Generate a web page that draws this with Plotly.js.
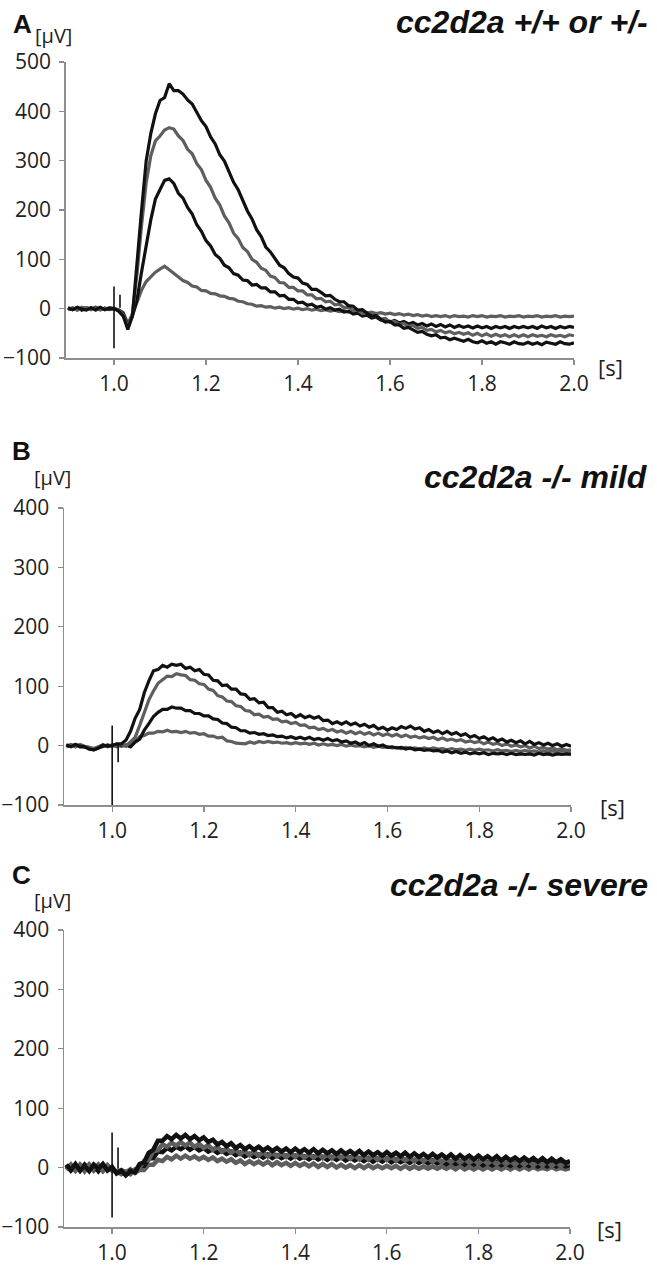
<!DOCTYPE html>
<html>
<head>
<meta charset="utf-8">
<script src="https://cdn.plot.ly/plotly-3.0.1.min.js"></script>
<style>html,body{margin:0;padding:0;background:#fff;}#chart{width:657px;height:1266px;}</style>
</head>
<body>
<div id="chart"></div>
<script>
// time base (s), shared by all traces
const timeS = [
0.90,0.91,0.92,0.93,0.94,0.95,0.96,0.97,0.98,0.99,
1.00,1.01,1.02,1.03,1.04,1.05,1.06,1.07,1.08,1.09,
1.10,1.11,1.12,1.13,1.14,1.15,1.16,1.17,1.18,1.19,
1.20,1.21,1.22,1.23,1.24,1.25,1.26,1.27,1.28,1.29,
1.30,1.31,1.32,1.33,1.34,1.35,1.36,1.37,1.38,1.39,
1.40,1.41,1.42,1.43,1.44,1.45,1.46,1.47,1.48,1.49,
1.50,1.51,1.52,1.53,1.54,1.55,1.56,1.57,1.58,1.59,
1.60,1.61,1.62,1.63,1.64,1.65,1.66,1.67,1.68,1.69,
1.70,1.71,1.72,1.73,1.74,1.75,1.76,1.77,1.78,1.79,
1.80,1.81,1.82,1.83,1.84,1.85,1.86,1.87,1.88,1.89,
1.90,1.91,1.92,1.93,1.94,1.95,1.96,1.97,1.98,1.99,
2.00];

// Panel A: cc2d2a +/+ or +/-  (µV)
const A1 = [2,-2,3,-1,-3,2,-2,3,-2,1,
0,-5,-15,-42,-15,100,200,300,355,395,
422,428,456,442,442,435,423,415,397,381,
369,348,334,312,299,278,256,241,219,198,
182,160,146,125,115,100,88,83,71,64,
62,52,49,39,39,33,26,27,19,14,
14,6,5,-3,-2,-9,-15,-14,-22,-27,
-26,-33,-33,-40,-38,-43,-48,-46,-52,-55,
-53,-59,-58,-63,-60,-63,-66,-62,-67,-69,
-65,-70,-67,-72,-67,-69,-72,-67,-71,-72,
-68,-72,-69,-73,-68,-70,-72,-67,-71,-72,
-69];
const A2 = [-1,2,-3,1,2,-2,3,-2,1,-1,
0,-3,-12,-38,-10,70,170,255,310,340,
350,362,367,364,350,341,323,314,294,282,
260,246,224,210,188,174,153,142,124,116,
100,94,82,78,66,63,53,52,43,43,
36,36,28,28,20,21,14,15,8,9,
2,3,-4,-3,-10,-8,-15,-14,-21,-20,
-27,-26,-32,-30,-36,-34,-40,-38,-44,-42,
-47,-44,-49,-46,-51,-48,-52,-49,-54,-50,
-55,-51,-56,-52,-56,-53,-57,-53,-57,-53,
-57,-53,-56,-54,-57,-53,-56,-54,-57,-53,
-55];
const A3 = [1,-2,2,-3,2,-1,3,-2,1,-2,
0,-3,-10,-35,-15,18,75,130,180,222,
243,260,263,254,234,224,205,192,170,157,
138,127,110,102,88,83,71,68,58,57,
48,49,42,42,34,34,26,27,19,19,
12,13,7,9,3,5,-1,2,-3,-1,
-7,-5,-11,-9,-15,-13,-19,-17,-23,-21,
-27,-24,-29,-26,-31,-28,-33,-30,-35,-31,
-36,-32,-37,-33,-38,-34,-38,-35,-39,-35,
-39,-36,-40,-36,-39,-36,-40,-36,-39,-36,
-39,-36,-40,-35,-39,-36,-40,-36,-39,-36,
-38];
const A4 = [-2,1,-2,3,-1,2,-3,1,-1,2,
0,-2,-8,-30,-12,15,38,55,65,74,
80,86,79,71,65,57,53,46,44,37,
36,31,30,26,25,21,20,15,14,10,
9,5,6,3,4,1,3,0,2,-1,
1,-2,0,-3,-1,-4,-2,-5,-3,-6,
-4,-7,-5,-8,-6,-9,-7,-10,-8,-11,
-9,-12,-10,-13,-11,-14,-12,-15,-13,-16,
-14,-16,-14,-17,-14,-16,-15,-17,-14,-16,
-14,-17,-15,-16,-14,-17,-15,-16,-14,-17,
-15,-16,-14,-17,-15,-16,-14,-17,-15,-16,
-15];

// Panel B: cc2d2a -/- mild
const B1 = [1,-2,2,-1,-2,-6,-7,-4,1,-1,
0,3,3,9,24,46,61,89,109,126,
128,135,132,137,135,137,130,132,126,128,
120,119,110,109,101,102,95,95,87,86,
78,79,72,73,64,64,56,58,52,54,
48,52,47,50,46,49,42,43,37,40,
36,40,35,38,33,36,31,34,28,31,
26,30,27,32,29,33,28,30,24,27,
22,25,20,24,19,22,17,20,14,17,
12,15,10,13,8,11,6,9,5,8,
3,7,2,5,1,4,0,3,-1,2,
-1];
const B2 = [-2,1,-2,2,-1,-3,-5,-2,1,-2,
1,-1,2,-1,6,14,34,54,77,92,
105,111,117,116,121,119,118,111,110,104,
103,95,93,84,82,75,74,67,66,59,
58,52,53,48,49,44,45,40,41,37,
39,34,35,30,31,27,29,25,27,23,
25,21,24,20,23,19,22,18,21,17,
20,16,19,15,18,14,16,13,15,12,
14,10,13,9,11,8,10,6,8,5,
7,3,6,2,4,0,3,-1,1,-2,
0,-4,-1,-5,-3,-6,-4,-7,-5,-8,
-7];
const B3 = [1,-1,2,-2,-2,-5,-7,-4,-1,1,
-1,2,-1,1,-2,6,11,26,37,49,
56,61,61,65,63,63,59,59,54,54,
50,50,45,44,38,37,31,30,25,25,
21,22,19,20,17,18,15,16,13,15,
12,14,11,14,10,12,9,12,8,10,
6,8,4,6,2,5,0,3,-1,1,
-3,-2,-4,-3,-6,-4,-7,-6,-8,-7,
-9,-8,-11,-9,-12,-10,-13,-11,-14,-12,
-14,-12,-15,-13,-14,-13,-15,-13,-15,-14,
-15,-14,-16,-13,-15,-14,-16,-14,-15,-14,
-15];
const B4 = [-1,2,-2,1,-2,-3,-6,-2,1,-1,
1,-2,1,-1,4,7,15,17,21,21,
24,23,26,23,24,22,24,21,22,19,
20,16,16,13,14,8,7,4,4,3,
6,4,7,5,7,5,6,4,5,3,
5,3,4,2,4,1,3,1,2,0,
2,-1,1,-1,0,-2,0,-3,-1,-3,
-2,-4,-3,-5,-3,-5,-4,-6,-4,-6,
-4,-6,-5,-7,-5,-7,-6,-8,-6,-8,
-6,-8,-7,-9,-7,-9,-8,-10,-8,-10,
-8,-10,-9,-11,-9,-11,-9,-11,-9,-10,
-10];

// Panel C: cc2d2a -/- severe
const C1 = [5,-4,6,-5,3,-6,5,-2,6,-5,
1,-10,-5,-13,-6,-8,6,9,25,30,
45,45,53,48,55,49,55,48,53,46,
51,43,47,39,43,36,41,33,38,31,
36,30,35,29,34,28,33,27,32,26,
32,26,31,25,31,24,30,24,29,23,
29,23,28,22,28,21,27,21,26,20,
26,20,25,19,25,18,24,18,23,17,
23,17,22,16,22,15,21,15,20,14,
20,14,19,13,19,12,18,12,17,11,
17,11,16,10,16,9,15,9,14,8,
11];
const C2 = [-4,5,-5,4,-6,5,-2,5,-5,3,
-5,-6,-11,-7,-11,-3,0,11,13,28,
29,39,35,42,37,43,37,42,35,40,
33,38,30,35,27,32,25,30,23,28,
21,27,20,26,19,25,19,24,18,24,
18,24,17,23,17,23,16,22,16,22,
16,21,15,21,14,20,14,20,13,19,
13,19,12,18,12,17,11,17,11,16,
10,16,9,15,9,15,8,14,8,13,
7,13,7,12,6,12,6,11,5,11,
5,11,4,10,4,10,3,9,3,9,
6];
const C3 = [4,-5,2,-5,5,-3,3,-6,5,-2,
0,-9,-5,-11,-5,-6,3,3,15,16,
27,26,33,29,35,31,36,30,35,29,
33,27,31,25,29,23,27,21,25,19,
23,18,22,17,22,16,21,16,20,15,
20,15,19,14,19,14,18,13,18,13,
18,12,17,12,16,11,16,10,15,10,
15,9,14,9,13,8,13,8,12,7,
12,7,11,6,11,6,10,5,10,5,
10,4,9,4,9,4,8,3,8,3,
8,3,8,2,7,2,7,2,7,2,
4];
const C4 = [-3,4,-5,5,-2,5,-5,2,-6,4,
-4,-8,-4,-8,-3,-9,-4,-4,5,5,
13,11,18,14,20,15,20,15,19,14,
18,13,17,11,15,10,14,8,12,6,
11,6,10,5,10,4,9,4,8,3,
8,3,7,2,7,1,6,1,6,0,
5,0,4,-1,4,-1,4,-1,3,-1,
3,-1,3,-2,3,-2,2,-2,2,-2,
2,-2,2,-2,2,-3,2,-3,1,-3,
1,-3,1,-3,1,-3,1,-3,1,-3,
1,-3,1,-3,0,-3,1,-3,0,-3,
-1];

// stimulus artifacts (time, µV)
const artT = [1.0, 1.0, null, 1.013, 1.013];
const artA = [-80, 45, null, 2, 28];
const artB = [-100, 34, null, 3, -28];
const artC = [-84, 59, null, -2, 34];

// ticks and labels
const xTicks = [1.0, 1.2, 1.4, 1.6, 1.8, 2.0];
const xTickText = ["1.0", "1.2", "1.4", "1.6", "1.8", "2.0"];
const yTicksA = [-100, 0, 100, 200, 300, 400, 500];
const yTicksBC = [-100, 0, 100, 200, 300, 400];
const panelTitles = ["cc2d2a +/+ or +/-", "cc2d2a -/- mild", "cc2d2a -/- severe"];
const panelLetters = ["A", "B", "C"];

const BLACK = '#111111', GRAY = '#5e5e5e';
const W = 657, H = 1266;

function tr(y, color, xa, ya, w) {
  return {x: timeS, y: y, type: 'scatter', mode: 'lines', xaxis: xa, yaxis: ya,
          line: {color: color, width: w}, hoverinfo: 'skip', showlegend: false};
}
function art(y, xa, ya) {
  return {x: artT, y: y, type: 'scatter', mode: 'lines', xaxis: xa, yaxis: ya,
          line: {color: BLACK, width: 1.6}, connectgaps: false, hoverinfo: 'skip', showlegend: false};
}

const data = [
  tr(A4, GRAY, 'x', 'y', 3.2), tr(A3, BLACK, 'x', 'y', 3.2), tr(A2, GRAY, 'x', 'y', 3.2), tr(A1, BLACK, 'x', 'y', 3.2), art(artA, 'x', 'y'),
  tr(B4, GRAY, 'x2', 'y2', 3.2), tr(B3, BLACK, 'x2', 'y2', 3.2), tr(B2, GRAY, 'x2', 'y2', 3.2), tr(B1, BLACK, 'x2', 'y2', 3.2), art(artB, 'x2', 'y2'),
  tr(C4, GRAY, 'x3', 'y3', 4.5), tr(C3, BLACK, 'x3', 'y3', 4.5), tr(C2, GRAY, 'x3', 'y3', 4.5), tr(C1, BLACK, 'x3', 'y3', 4.5), art(artC, 'x3', 'y3')
];

const tickFont = {family: 'Open Sans, DejaVu Sans, sans-serif', size: 21, color: '#222'};
function xax(d0, d1, anchor) {
  return {domain: [d0 / W, d1 / W], anchor: anchor, range: [0.895, 2.0], tickvals: xTicks, ticktext: xTickText,
          showline: true, linecolor: '#8e8e8e', linewidth: 1.5, ticks: 'outside', ticklen: 5, tickwidth: 1.3,
          tickcolor: '#8e8e8e', showgrid: false, zeroline: false, tickfont: tickFont, ticklabelstandoff: 1, fixedrange: true};
}
function yax(top, bottom, anchor, range, tv) {
  return {domain: [1 - bottom / H, 1 - top / H], anchor: anchor, range: range, tickvals: tv,
          showline: true, linecolor: '#8e8e8e', linewidth: 1.5, ticks: 'outside', ticklen: 5, tickwidth: 1.3,
          tickcolor: '#8e8e8e', showgrid: false, zeroline: false, tickfont: tickFont, ticklabelstandoff: 4, fixedrange: true};
}

function ann(text, px, py, font, xanchor) {
  return {text: text, x: px / W, y: 1 - py / H, xref: 'paper', yref: 'paper', showarrow: false,
          xanchor: xanchor || 'center', yanchor: 'middle', font: font};
}
const titleFont = {family: 'Liberation Sans, Arial, sans-serif', size: 32, color: '#111', weight: 'bold', style: 'italic'};
const letterFont = {family: 'Liberation Sans, Arial, sans-serif', size: 26, color: '#111', weight: 'bold'};
const unitFont = {family: 'Open Sans, DejaVu Sans, sans-serif', size: 20, color: '#222'};
const sFont = {family: 'Open Sans, DejaVu Sans, sans-serif', size: 22, color: '#222'};

const layout = {
  width: W, height: H, margin: {l: 0, r: 0, t: 0, b: 0}, paper_bgcolor: '#fff', plot_bgcolor: '#fff', showlegend: false,
  xaxis: xax(65.7, 574, 'y'), yaxis: yax(62, 358, 'x', [-100, 500], yTicksA),
  xaxis2: xax(64, 571, 'y2'), yaxis2: yax(508, 805, 'x2', [-100, 400], yTicksBC),
  xaxis3: xax(64, 570, 'y3'), yaxis3: yax(930, 1227, 'x3', [-100, 400], yTicksBC),
  annotations: [
    ann('<b><i>' + panelTitles[0] + '</i></b>', 650, 22, titleFont, 'right'),
    ann('<b><i>' + panelTitles[1] + '</i></b>', 650, 477, titleFont, 'right'),
    ann('<b><i>' + panelTitles[2] + '</i></b>', 650, 885, titleFont, 'right'),
    ann('<b>' + panelLetters[0] + '</b>', 22, 24, letterFont),
    ann('<b>' + panelLetters[1] + '</b>', 21, 451, letterFont),
    ann('<b>' + panelLetters[2] + '</b>', 21, 875, letterFont),
    ann('[µV]', 53, 35, unitFont), ann('[µV]', 52, 478, unitFont), ann('[µV]', 52, 900, unitFont),
    ann('[s]', 610, 367, sFont), ann('[s]', 612, 807, sFont), ann('[s]', 609, 1229, sFont)
  ]
};

Plotly.newPlot('chart', data, layout, {staticPlot: true, displayModeBar: false});
</script>
</body>
</html>
